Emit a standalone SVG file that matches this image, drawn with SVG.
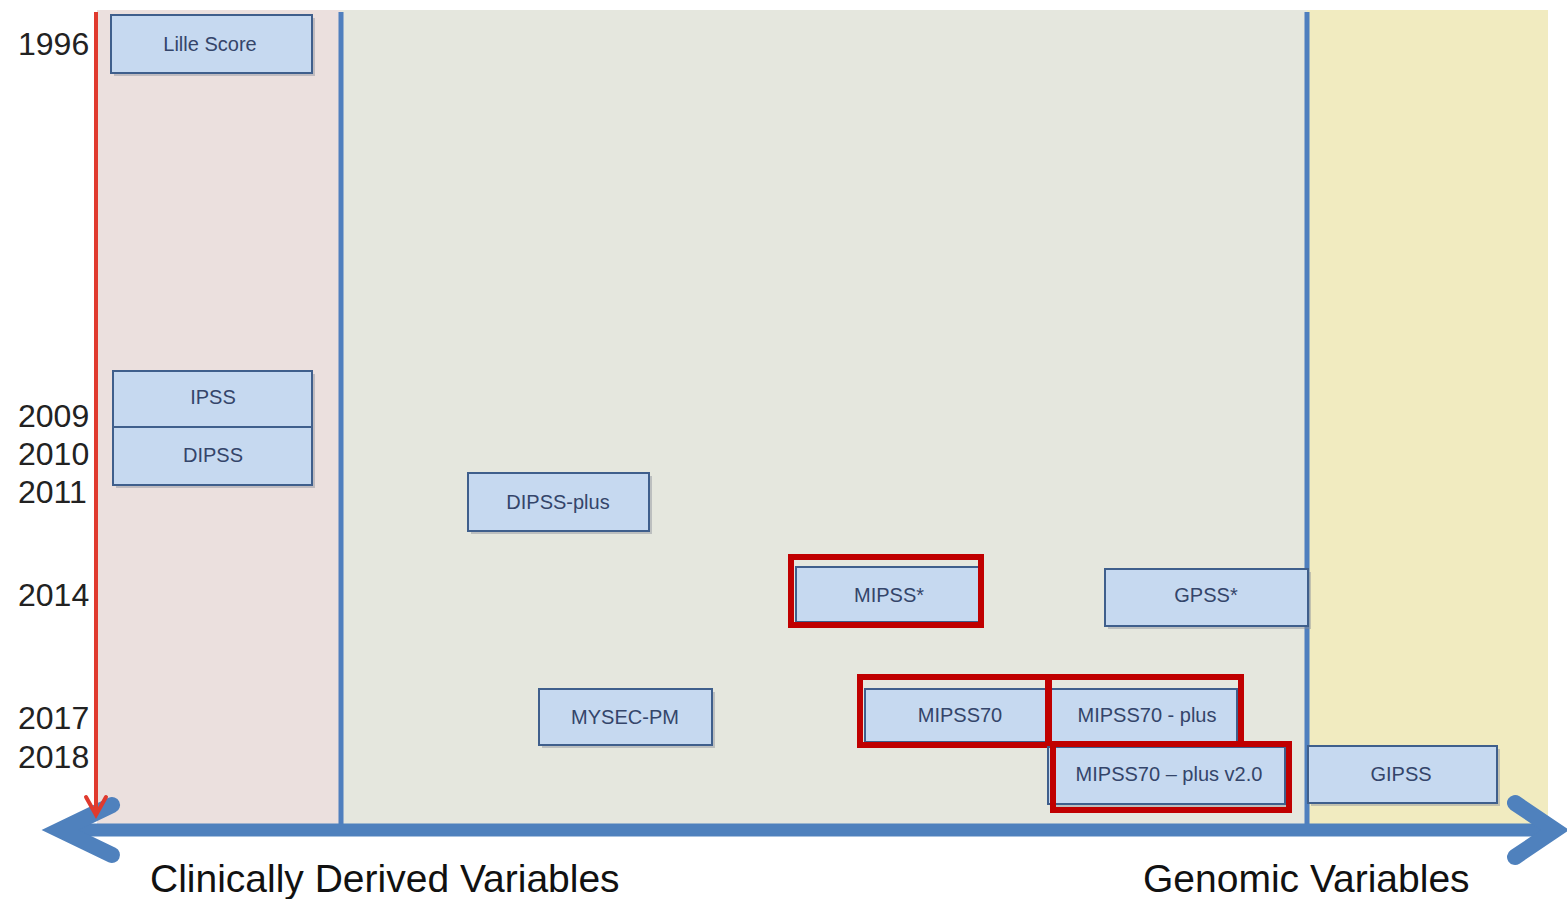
<svg xmlns="http://www.w3.org/2000/svg" width="1567" height="899" viewBox="0 0 1567 899">
<style>
.box{fill:#c6d9f0;stroke:#3f5f8c;stroke-width:2}
.lbl{font-family:"Liberation Sans",Arial,sans-serif;font-size:20px;fill:#34456a;text-anchor:middle}
.yr{font-family:"Liberation Sans",Arial,sans-serif;font-size:32px;fill:#222}
.ax{font-family:"Liberation Sans",Arial,sans-serif;font-size:39px;fill:#111}
.hl{fill:none;stroke:#c00000;stroke-width:6}
.sh{fill:#8a8f99;opacity:0.45}
</style>
<rect width="1567" height="899" fill="#ffffff"/>
<g id="backgrounds">
<rect x="97" y="10" width="244" height="814" fill="#ebe0de"/>
<rect x="341" y="10" width="966" height="814" fill="#e5e7de"/>
<rect x="1307" y="10" width="241" height="814" fill="#f1ebc0"/>
</g>
<g id="connectors">
<line x1="341" y1="12" x2="341" y2="830" stroke="#4f7fbe" stroke-width="5"/>
<line x1="1307" y1="12" x2="1307" y2="830" stroke="#4f7fbe" stroke-width="5"/>
<path d="M70 830 H1548" stroke="#4f81bd" stroke-width="13" fill="none"/>
<path d="M112 805 L60 830 L112 855" stroke="#4f81bd" stroke-width="16" fill="none" stroke-linecap="round" stroke-linejoin="miter"/>
<path d="M1515 803 L1555 830 L1515 857" stroke="#4f81bd" stroke-width="16" fill="none" stroke-linecap="round" stroke-linejoin="miter"/>
<line x1="96" y1="12" x2="96" y2="812" stroke="#e03a2e" stroke-width="4"/>
<path d="M86 797 L96 815 L106 797" stroke="#e03a2e" stroke-width="4" fill="none" stroke-linecap="round"/>
</g>
<g id="years">
<text class="yr" x="18" y="55">1996</text>
<text class="yr" x="18" y="427">2009</text>
<text class="yr" x="18" y="465">2010</text>
<text class="yr" x="18" y="503">2011</text>
<text class="yr" x="18" y="606">2014</text>
<text class="yr" x="18" y="729">2017</text>
<text class="yr" x="18" y="768">2018</text>
</g>
<g id="n-lille"><rect class="sh" x="114" y="18" width="201" height="58"/><rect class="box" x="111" y="15" width="201" height="58"/><text class="lbl" x="210" y="51">Lille Score</text></g>
<g id="n-ipss"><rect class="sh" x="116" y="374" width="199" height="114"/><rect class="box" x="113" y="371" width="199" height="56"/><text class="lbl" x="213" y="404">IPSS</text></g>
<g id="n-dipss"><rect class="box" x="113" y="427" width="199" height="58"/><text class="lbl" x="213" y="462">DIPSS</text></g>
<g id="n-dipssplus"><rect class="sh" x="471" y="476" width="181" height="58"/><rect class="box" x="468" y="473" width="181" height="58"/><text class="lbl" x="558" y="509">DIPSS-plus</text></g>
<g id="n-mysec"><rect class="sh" x="542" y="692" width="173" height="56"/><rect class="box" x="539" y="689" width="173" height="56"/><text class="lbl" x="625" y="724">MYSEC-PM</text></g>
<g id="n-mipss"><rect class="sh" x="799" y="570" width="185" height="55"/><rect class="box" x="796" y="567" width="185" height="55"/><text class="lbl" x="889" y="602">MIPSS*</text><rect class="hl" x="791" y="557" width="190" height="68"/></g>
<g id="n-gpss"><rect class="sh" x="1108" y="572" width="203" height="57"/><rect class="box" x="1105" y="569" width="203" height="57"/><text class="lbl" x="1206" y="602">GPSS*</text></g>
<g id="n-mipss70"><rect class="sh" x="868" y="692" width="185" height="53"/><rect class="box" x="865" y="689" width="185" height="53"/><text class="lbl" x="960" y="722">MIPSS70</text><rect class="hl" x="860" y="677" width="188" height="68"/></g>
<g id="n-mipss70plus"><rect class="box" x="1047" y="689" width="190" height="53"/><text class="lbl" x="1147" y="722">MIPSS70 - plus</text><rect class="hl" x="1049" y="677" width="192" height="68"/></g>
<g id="n-mipss70v2"><rect class="sh" x="1051" y="750" width="237" height="57"/><rect class="box" x="1048" y="747" width="237" height="57"/><text class="lbl" x="1169" y="781">MIPSS70 – plus v2.0</text><rect class="hl" x="1053" y="744" width="236" height="66"/></g>
<g id="n-gipss"><rect class="sh" x="1311" y="749" width="189" height="57"/><rect class="box" x="1308" y="746" width="189" height="57"/><text class="lbl" x="1401" y="781">GIPSS</text></g>
<g id="axis-labels">
<text class="ax" x="150" y="892">Clinically Derived Variables</text>
<text class="ax" x="1143" y="892">Genomic Variables</text>
</g>
</svg>
